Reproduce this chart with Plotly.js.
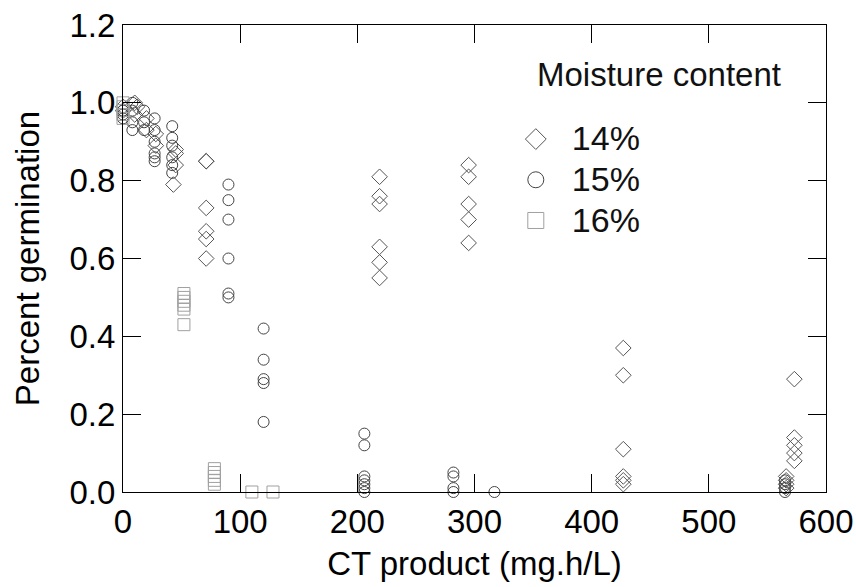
<!DOCTYPE html>
<html>
<head>
<meta charset="utf-8">
<script src="https://cdn.plot.ly/plotly-3.0.1.min.js"></script>
<style>html,body{margin:0;padding:0;background:#fff;}#chart{width:856px;height:587px;}</style>
</head>
<body>
<div id="chart"></div>
<script>
// 14% moisture content (diamonds)
const x14 = [0,0,10,10,12,20,20,28,28,45,45,45,43,
  71,71,71,71,71,71,
  219,219,219,219,219,219,
  295,295,295,295,295,
  427,427,427,427,427,427,
  573,573,573,573,573,
  566,566,566,566];
const y14 = [0.99,0.98,1.0,0.97,0.99,0.96,0.93,0.92,0.89,0.88,0.87,0.84,0.79,
  0.85,0.85,0.73,0.67,0.65,0.60,
  0.81,0.76,0.74,0.63,0.59,0.55,
  0.84,0.81,0.74,0.70,0.64,
  0.37,0.30,0.11,0.04,0.03,0.02,
  0.29,0.14,0.12,0.10,0.08,
  0.04,0.03,0.02,0.01];

// 15% moisture content (circles)
const x15 = [0,0,0, 8,8,8,8, 18,18,18, 27,27,27,27,27,27, 42,42,42,42,42,42,
  90,90,90,90,90,90,
  120,120,120,120,120,
  206,206,206,206,206,206,206,
  282,282,282,282,
  317,
  565,565,565,565];
const y15 = [0.98,0.97,0.96, 1.0,0.98,0.95,0.93, 0.98,0.95,0.93, 0.96,0.93,0.90,0.87,0.86,0.85, 0.94,0.91,0.89,0.86,0.84,0.82,
  0.79,0.75,0.70,0.60,0.51,0.50,
  0.42,0.34,0.29,0.28,0.18,
  0.15,0.12,0.04,0.03,0.02,0.01,0.0,
  0.05,0.04,0.01,0.0,
  0.0,
  0.03,0.02,0.01,0.0];

// 16% moisture content (squares)
const x16 = [0,0,0,0,0, 52,52,52,52,52,52, 78,78,78,78,78, 110,128];
const y16 = [1.0,0.99,0.98,0.97,0.96, 0.51,0.50,0.49,0.48,0.47,0.43, 0.06,0.05,0.04,0.03,0.02, 0.0,0.0];

const seriesNames = ['14%','15%','16%'];
const legendTitle = 'Moisture content';
const xTitle = 'CT product (mg.h/L)';
const yTitle = 'Percent germination';

const FONT = 'Liberation Sans, Arial, Helvetica, sans-serif';
const FS = 33;
const styles = [
  {symbol:'diamond-open', color:'#555555', size:12},
  {symbol:'circle-open', color:'#444444', size:11},
  {symbol:'square-open', color:'#a0a0a0', size:12}
];
const xs = [x14, x15, x16], ys = [y14, y15, y16];

const traces = [];
for (let i = 0; i < 3; i++) {
  traces.push({
    type:'scatter', mode:'markers', x: xs[i], y: ys[i], name: seriesNames[i],
    showlegend:false, cliponaxis:false, hoverinfo:'skip',
    marker:{symbol: styles[i].symbol, size: styles[i].size, color: styles[i].color, line:{width:1, color: styles[i].color}}
  });
}
// legend-only entries (no data)
for (let i = 0; i < 3; i++) {
  traces.push({
    type:'scatter', mode:'markers', x:[null], y:[null],
    name: '<span style="font-size:' + (FS+1) + 'px">' + seriesNames[i] + '</span>',
    showlegend:true, hoverinfo:'skip',
    marker:{symbol: styles[i].symbol, size:16, color: styles[i].color, line:{width:1, color: styles[i].color}}
  });
}

const layout = {
  width:856, height:587,
  margin:{l:123, r:30, t:25, b:95},
  paper_bgcolor:'#ffffff', plot_bgcolor:'#ffffff',
  font:{family:FONT, size:FS, color:'#000'},
  showlegend:true,
  legend:{x:0.536, y:0.81, xanchor:'left', yanchor:'top', itemwidth:62,
    font:{family:FONT, size:29, color:'#111'}, bgcolor:'rgba(0,0,0,0)', borderwidth:0, tracegroupgap:0},
  xaxis:{range:[0,600], tickvals:[0,100,200,300,400,500,600], ticktext:['0','100','200','300','400','500','600'],
    ticks:'inside', ticklen:18, tickwidth:1, tickcolor:'#000', showline:true, linecolor:'#000', linewidth:1,
    mirror:'ticks', showgrid:false, zeroline:false, tickfont:{family:FONT, size:FS, color:'#000'},
    title:{text:xTitle, font:{family:FONT, size:FS, color:'#000'}, standoff:13}},
  yaxis:{range:[0,1.2], tickvals:[0,0.2,0.4,0.6,0.8,1.0,1.2], ticktext:['0.0','0.2','0.4','0.6','0.8','1.0','1.2'],
    ticks:'inside', ticklen:18, tickwidth:1, tickcolor:'#000', showline:true, linecolor:'#000', linewidth:1,
    mirror:'ticks', showgrid:false, zeroline:false, tickfont:{family:FONT, size:FS, color:'#000'},
    title:{text:yTitle, font:{family:FONT, size:FS, color:'#000'}, standoff:19}},
  annotations:[{text:legendTitle, xref:'paper', yref:'paper', x:0.586, y:0.893, xanchor:'left', yanchor:'middle',
    showarrow:false, font:{family:FONT, size:FS, color:'#111'}}]
};

Plotly.newPlot('chart', traces, layout, {staticPlot:true, displayModeBar:false});
</script>
</body>
</html>
